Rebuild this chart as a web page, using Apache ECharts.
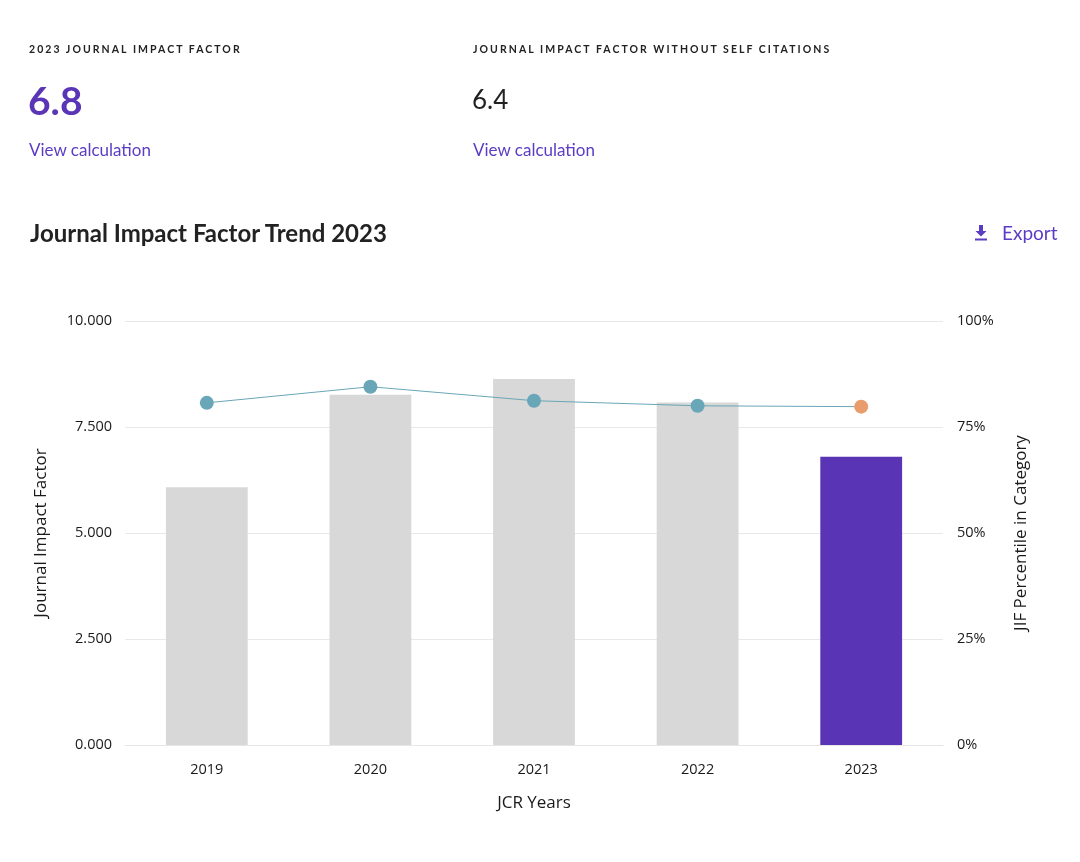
<!DOCTYPE html>
<html>
<head>
<meta charset="utf-8">
<script src="https://cdn.jsdelivr.net/npm/echarts@6/dist/echarts.min.js"></script>
<style>
  html, body { margin: 0; padding: 0; background: #fff; width: 1080px; height: 862px; overflow: hidden; }
  #chart { position: absolute; left: 0; top: 0; width: 1080px; height: 862px; }
  .ov { position: absolute; font-family: Lato, "Open Sans", sans-serif; white-space: nowrap; }
  .cap { font-size: 10.5px; font-weight: 700; letter-spacing: 2.05px; color: #222; top: 43px; }
  .big { font-size: 39px; top: 76px; line-height: 48px; }
  .mid { font-size: 26px; top: 75px; line-height: 48px; }
  .link { font-size: 17px; color: #5b3cc4; top: 139px; }
  .title { font-size: 24px; font-weight: 700; color: #222; left: 30px; top: 218px; }
  .export { font-size: 19px; color: #5b3cc4; left: 974px; top: 221px; }
</style>
</head>
<body>
<div id="chart"></div>
<div class="ov cap" style="left:29px">2023 JOURNAL IMPACT FACTOR</div>
<div class="ov cap" style="left:473px">JOURNAL IMPACT FACTOR WITHOUT SELF CITATIONS</div>
<div class="ov big" style="left:28px;color:#5a35b5;font-weight:700">6.8</div>
<div class="ov mid" style="left:472px;color:#222;font-weight:400">6.4</div>
<div class="ov link" style="left:29px">View calculation</div>
<div class="ov link" style="left:473px">View calculation</div>
<div class="ov title">Journal Impact Factor Trend 2023</div>
<div class="ov export"><svg width="14" height="16" viewBox="0 0 14 16" style="vertical-align:-1px;margin-right:14px"><path d="M5 0h4v6h3.5L7 11.5 1.5 6H5z" fill="#5b3cc4"/><rect x="1" y="13.5" width="12" height="2" fill="#5b3cc4"/></svg>Export</div>
<script>
const years = ['2019', '2020', '2021', '2022', '2023'];
const jifValues = [6.08, 8.26, 8.63, 8.08, 6.8];
const percentileValues = [80.7, 84.5, 81.2, 80.0, 79.8];
const leftTicks = { min: 0, max: 10, interval: 2.5 };
const rightTicks = { min: 0, max: 100, interval: 25 };

const grey = '#d8d8d8', purple = '#5935b6', teal = '#69a6b8', orange = '#e99c6c';
const chart = echarts.init(document.getElementById('chart'));
const fontFam = '"Open Sans", Lato, sans-serif';

chart.setOption({
  animation: false,
  grid: { left: 125, right: 137, top: 321, bottom: 117 },
  xAxis: {
    type: 'category',
    data: years,
    name: 'JCR Years',
    nameLocation: 'middle',
    nameGap: 50,
    nameTextStyle: { fontSize: 17, color: '#1a1a1a', fontFamily: fontFam },
    axisLine: { lineStyle: { color: '#e6e6e6', width: 1 } },
    axisTick: { show: false },
    axisLabel: { fontSize: 14.5, color: '#1a1a1a', margin: 17, fontFamily: fontFam }
  },
  yAxis: [
    {
      type: 'value', min: leftTicks.min, max: leftTicks.max, interval: leftTicks.interval,
      name: 'Journal Impact Factor', nameLocation: 'middle', nameGap: 75, nameRotate: 90,
      nameTextStyle: { fontSize: 17, color: '#1a1a1a', fontFamily: fontFam },
      axisLine: { show: false }, axisTick: { show: false },
      axisLabel: { fontSize: 14.5, color: '#1a1a1a', margin: 13, fontFamily: fontFam,
        formatter: v => v.toFixed(3) },
      splitLine: { lineStyle: { color: '#e8e8e8', width: 1 } }
    },
    {
      type: 'value', min: rightTicks.min, max: rightTicks.max, interval: rightTicks.interval,
      name: 'JIF Percentile in Category', nameLocation: 'middle', nameGap: 70, nameRotate: 90,
      nameTextStyle: { fontSize: 17, color: '#1a1a1a', fontFamily: fontFam },
      axisLine: { show: false }, axisTick: { show: false },
      axisLabel: { fontSize: 14.5, color: '#1a1a1a', margin: 14, fontFamily: fontFam,
        formatter: v => v + '%' },
      splitLine: { show: false }
    }
  ],
  series: [
    {
      type: 'bar', yAxisIndex: 0, barWidth: '50%',
      data: jifValues.map((v, i) => ({ value: v, itemStyle: { color: i === jifValues.length - 1 ? purple : grey } }))
    },
    {
      type: 'line', yAxisIndex: 1, symbol: 'circle', symbolSize: 14,
      lineStyle: { color: teal, width: 1 },
      data: percentileValues.map((v, i) => ({ value: v, itemStyle: { color: i === percentileValues.length - 1 ? orange : teal } }))
    }
  ]
});
</script>
</body>
</html>
